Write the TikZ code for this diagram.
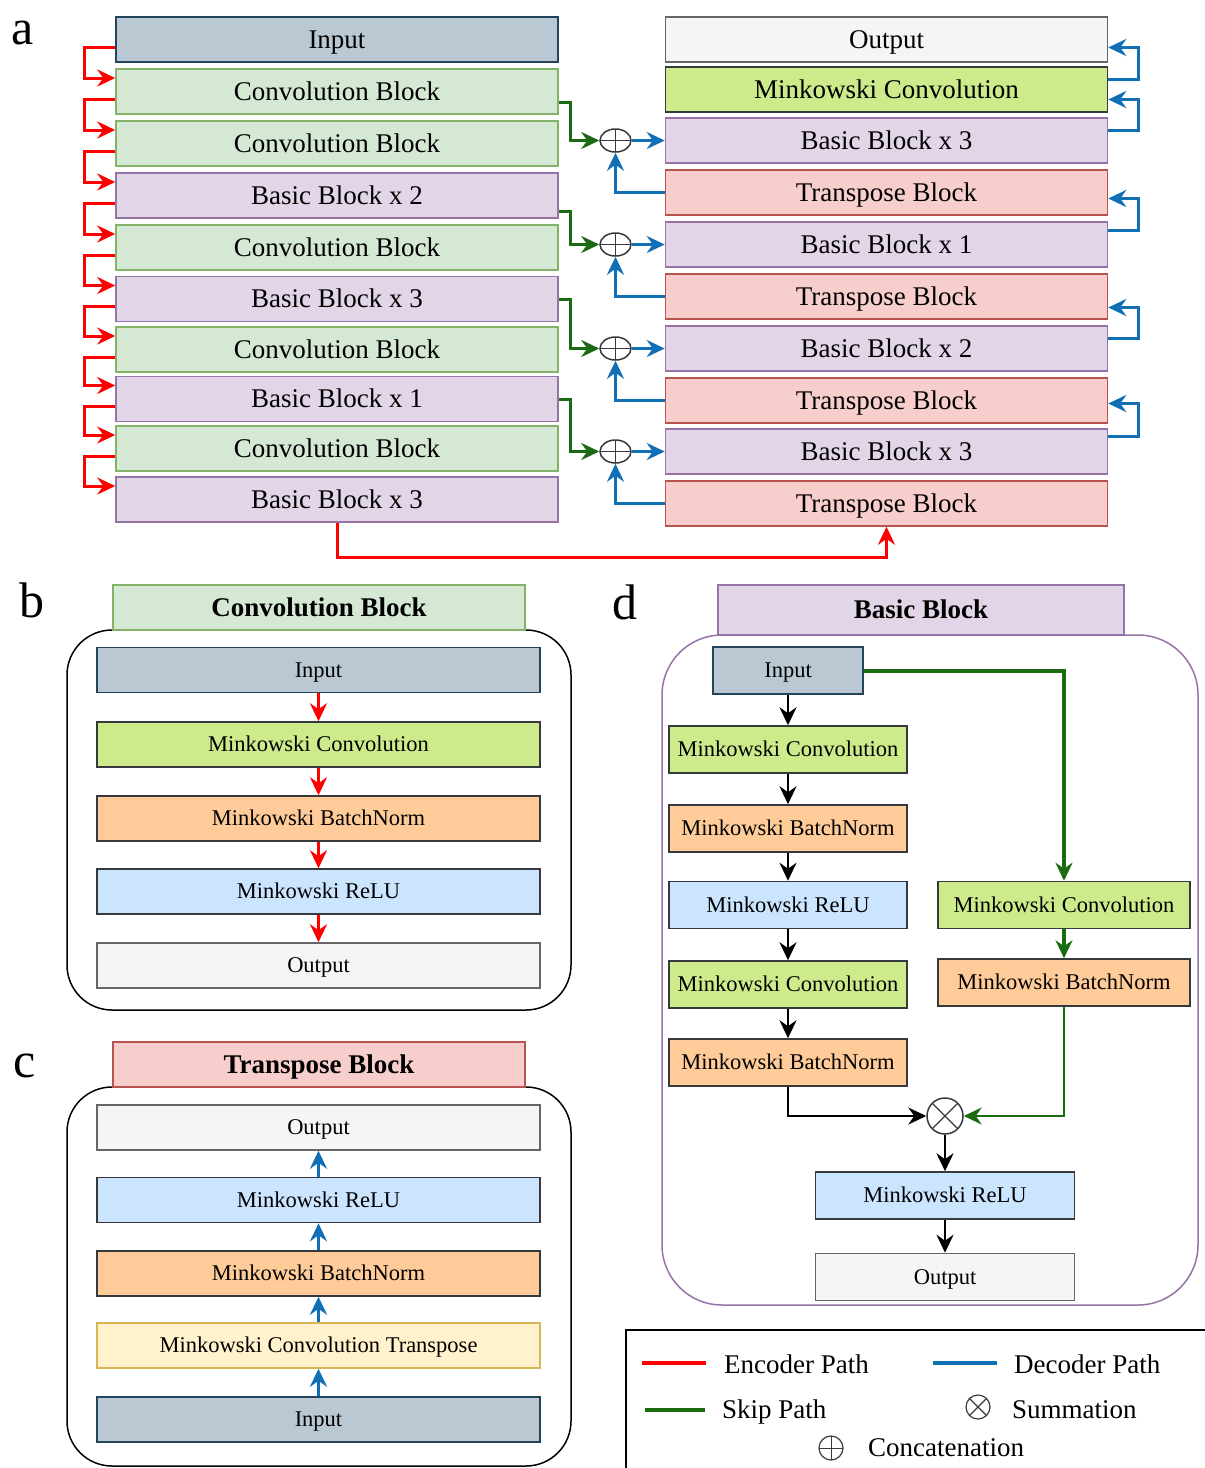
\documentclass[tikz,border=0pt]{standalone}
\usepackage{fontspec}
\setmainfont{Liberation Serif}
\usetikzlibrary{arrows.meta,shapes.geometric}

\definecolor{inpfill}{HTML}{BAC8D3}
\definecolor{inpline}{HTML}{23445D}
\definecolor{convfill}{HTML}{D5E8D4}
\definecolor{convline}{HTML}{82B366}
\definecolor{basicfill}{HTML}{E1D5E7}
\definecolor{basicline}{HTML}{9673A6}
\definecolor{outfill}{HTML}{F5F5F5}
\definecolor{outline}{HTML}{666666}
\definecolor{mconvfill}{HTML}{CDEB8B}
\definecolor{darkline}{HTML}{36393D}
\definecolor{transfill}{HTML}{F8CECC}
\definecolor{transline}{HTML}{B85450}
\definecolor{bnfill}{HTML}{FFCC99}
\definecolor{relufill}{HTML}{CCE5FF}
\definecolor{ctfill}{HTML}{FFF2CC}
\definecolor{ctline}{HTML}{D6B656}
\definecolor{encred}{HTML}{FF0000}
\definecolor{decblue}{HTML}{1170B5}
\definecolor{skipgreen}{HTML}{1A6B12}

\newcommand{\blockfont}{\fontsize{27}{30}\selectfont}
\newcommand{\layerfont}{\fontsize{22.5}{26}\selectfont}
\newcommand{\titlefont}{\fontsize{27}{30}\selectfont\bfseries}
\newcommand{\tagfont}{\fontsize{50}{55}\selectfont}

\tikzset{
  blk/.style={draw, line width=1.5pt, inner sep=0pt},
  inputbox/.style={blk, fill=inpfill, draw=inpline},
  convbox/.style={blk, fill=convfill, draw=convline},
  basicbox/.style={blk, fill=basicfill, draw=basicline},
  outbox/.style={blk, fill=outfill, draw=outline},
  mconvbox/.style={blk, fill=mconvfill, draw=darkline},
  transbox/.style={blk, fill=transfill, draw=transline},
  bnbox/.style={blk, fill=bnfill, draw=darkline},
  relubox/.style={blk, fill=relufill, draw=darkline},
  ctbox/.style={blk, fill=ctfill, draw=ctline},
  bigtext/.style={font=\blockfont, text height=19.4pt, text depth=1.6pt},
  smalltext/.style={font=\layerfont, text height=16.2pt, text depth=1.35pt},
  wideA/.style={bigtext, minimum width=442pt, minimum height=45pt},
  wideB/.style={smalltext, minimum width=443pt, minimum height=45pt},
  titlebox/.style={minimum width=412pt, minimum height=45pt, font=\titlefont,
    text height=19.4pt, text depth=1.6pt},
  tagtext/.style={font=\tagfont, inner sep=0pt},
  concat/.style={ellipse, draw=darkline, line width=1.5pt, inner sep=0pt,
    minimum width=31pt, minimum height=23pt,
    path picture={\draw[darkline, line width=1.2pt]
      (path picture bounding box.north) -- (path picture bounding box.south)
      (path picture bounding box.west) -- (path picture bounding box.east);}},
  summ/.style={circle, draw=darkline, line width=1.5pt, inner sep=0pt,
    minimum size=36pt,
    path picture={\draw[darkline, line width=1.2pt]
      (path picture bounding box.north west) -- (path picture bounding box.south east)
      (path picture bounding box.south west) -- (path picture bounding box.north east);}},
  tip/.style={-{Stealth[length=18pt,width=17pt,inset=6pt]}},
  encpath/.style={tip, draw=encred, line width=3pt},
  decpath/.style={tip, draw=decblue, line width=3pt},
  skippath/.style={tip, draw=skipgreen, line width=3pt},
  flowpath/.style={tip, draw=black, line width=2.5pt}
}

\begin{document}
\begin{tikzpicture}[x=1pt, y=-1pt]
  \useasboundingbox (0,0) rectangle (1205,1468);

  %%%%% PART A %%%%%
  \node[tagtext] (taga) at (23,33) {a};

  \node[inputbox, wideA] (enc0) at (337,39.5) {Input};
  \node[convbox, wideA] (enc1) at (337,91.5) {Convolution Block};
  \node[convbox, wideA] (enc2) at (337,143.5) {Convolution Block};
  \node[basicbox, wideA] (enc3) at (337,195.5) {Basic Block x 2};
  \node[convbox, wideA] (enc4) at (337,247.5) {Convolution Block};
  \node[basicbox, wideA] (enc5) at (337,299) {Basic Block x 3};
  \node[convbox, wideA] (enc6) at (337,349.5) {Convolution Block};
  \node[basicbox, wideA] (enc7) at (337,399) {Basic Block x 1};
  \node[convbox, wideA] (enc8) at (337,448.5) {Convolution Block};
  \node[basicbox, wideA] (enc9) at (337,499.5) {Basic Block x 3};

  \node[outbox, wideA] (dec0) at (886.5,39.5) {Output};
  \node[mconvbox, wideA] (dec1) at (886.5,89.5) {Minkowski Convolution};
  \node[basicbox, wideA] (dec2) at (886.5,140.5) {Basic Block x 3};
  \node[transbox, wideA] (dec3) at (886.5,192.5) {Transpose Block};
  \node[basicbox, wideA] (dec4) at (886.5,244.5) {Basic Block x 1};
  \node[transbox, wideA] (dec5) at (886.5,296.5) {Transpose Block};
  \node[basicbox, wideA] (dec6) at (886.5,348.5) {Basic Block x 2};
  \node[transbox, wideA] (dec7) at (886.5,400.5) {Transpose Block};
  \node[basicbox, wideA] (dec8) at (886.5,451.5) {Basic Block x 3};
  \node[transbox, wideA] (dec9) at (886.5,503.5) {Transpose Block};

  \node[concat] (cat1) at (615.5,140.5) {};
  \node[concat] (cat2) at (615.5,244.5) {};
  \node[concat] (cat3) at (615.5,348.5) {};
  \node[concat] (cat4) at (615.5,451.5) {};

  % encoder path
  \draw[encpath] ([yshift=-7.5pt]enc0.west) -- ++(-31,0) |- ([yshift=13.5pt]enc1.west);
  \draw[encpath] ([yshift=-7.5pt]enc1.west) -- ++(-31,0) |- ([yshift=13.5pt]enc2.west);
  \draw[encpath] ([yshift=-7.5pt]enc2.west) -- ++(-31,0) |- ([yshift=13.5pt]enc3.west);
  \draw[encpath] ([yshift=-7.5pt]enc3.west) -- ++(-31,0) |- ([yshift=13.5pt]enc4.west);
  \draw[encpath] ([yshift=-7.5pt]enc4.west) -- ++(-31,0) |- ([yshift=13.5pt]enc5.west);
  \draw[encpath] ([yshift=-7.5pt]enc5.west) -- ++(-31,0) |- ([yshift=13.5pt]enc6.west);
  \draw[encpath] ([yshift=-7.5pt]enc6.west) -- ++(-31,0) |- ([yshift=13.5pt]enc7.west);
  \draw[encpath] ([yshift=-7.5pt]enc7.west) -- ++(-31,0) |- ([yshift=13.5pt]enc8.west);
  \draw[encpath] ([yshift=-7.5pt]enc8.west) -- ++(-31,0) |- ([yshift=13.5pt]enc9.west);
  \draw[encpath] (enc9.south) -- ++(0,35) -| (dec9.south);

  % skip path
  \draw[skippath] ([yshift=-11pt]enc1.east) -- ++(12,0) |- (cat1.west);
  \draw[skippath] ([yshift=-16pt]enc3.east) -- ++(12,0) |- (cat2.west);
  \draw[skippath] (enc5.east) -- ++(12,0) |- (cat3.west);
  \draw[skippath] (enc7.east) -- ++(12,0) |- (cat4.west);

  % decoder path
  \draw[decpath] (cat1.east) -- (dec2.west);
  \draw[decpath] (cat2.east) -- (dec4.west);
  \draw[decpath] (cat3.east) -- (dec6.west);
  \draw[decpath] (cat4.east) -- (dec8.west);
  \draw[decpath] (dec3.west) -| (cat1.south);
  \draw[decpath] (dec5.west) -| (cat2.south);
  \draw[decpath] (dec7.west) -| (cat3.south);
  \draw[decpath] (dec9.west) -| (cat4.south);
  \draw[decpath] ([yshift=10pt]dec1.east) -- ++(30,0) |- ([yshift=-8pt]dec0.east);
  \draw[decpath] ([yshift=10pt]dec2.east) -- ++(30,0) |- ([yshift=-10pt]dec1.east);
  \draw[decpath] ([yshift=14pt]dec4.east) -- ++(30,0) |- ([yshift=-6pt]dec3.east);
  \draw[decpath] ([yshift=10pt]dec6.east) -- ++(30,0) |- ([yshift=-11pt]dec5.east);
  \draw[decpath] ([yshift=15pt]dec8.east) -- ++(30,0) |- ([yshift=-3pt]dec7.east);

  %%%%% PART B %%%%%
  \node[tagtext] (tagb) at (32,600) {b};
  \draw[line width=1.5pt, rounded corners=45pt] (67,630) rectangle (571,1010);
  \node[convbox, titlebox] (cbtitle) at (319,607.5) {Convolution Block};

  \node[inputbox, wideB] (cbin) at (318.5,670) {Input};
  \node[mconvbox, wideB] (cbconv) at (318.5,744.5) {Minkowski Convolution};
  \node[bnbox, wideB] (cbbn) at (318.5,818.5) {Minkowski BatchNorm};
  \node[relubox, wideB] (cbrelu) at (318.5,891.5) {Minkowski ReLU};
  \node[outbox, wideB] (cbout) at (318.5,965.5) {Output};

  \draw[encpath] (cbin) -- (cbconv);
  \draw[encpath] (cbconv) -- (cbbn);
  \draw[encpath] (cbbn) -- (cbrelu);
  \draw[encpath] (cbrelu) -- (cbout);

  %%%%% PART C %%%%%
  \node[tagtext] (tagc) at (25,1066) {c};
  \draw[line width=1.5pt, rounded corners=45pt] (67,1087) rectangle (571,1466);
  \node[transbox, titlebox] (tbtitle) at (319,1064.5) {Transpose Block};

  \node[outbox, wideB] (tbout) at (318.5,1127.5) {Output};
  \node[relubox, wideB] (tbrelu) at (318.5,1200) {Minkowski ReLU};
  \node[bnbox, wideB] (tbbn) at (318.5,1273.5) {Minkowski BatchNorm};
  \node[ctbox, wideB] (tbct) at (318.5,1345.5) {Minkowski Convolution Transpose};
  \node[inputbox, wideB] (tbin) at (318.5,1419.5) {Input};

  \draw[decpath] (tbin) -- (tbct);
  \draw[decpath] (tbct) -- (tbbn);
  \draw[decpath] (tbbn) -- (tbrelu);
  \draw[decpath] (tbrelu) -- (tbout);

  %%%%% PART D %%%%%
  \node[tagtext] (tagd) at (625,602) {d};
  \draw[basicline, line width=1.5pt, rounded corners=60pt] (662,635) rectangle (1198,1305);
  \node[basicbox, minimum width=406pt, minimum height=50pt, font=\titlefont,
    text height=19.4pt, text depth=1.6pt] (bbtitle) at (921,610) {Basic Block};

  \node[inputbox, smalltext, minimum width=150pt, minimum height=47pt] (bbin) at (788,670.5) {Input};
  \node[mconvbox, smalltext, minimum width=238pt, minimum height=47pt] (bbconv1) at (788,749.5) {Minkowski Convolution};
  \node[bnbox, smalltext, minimum width=238pt, minimum height=47pt] (bbbn1) at (788,828.5) {Minkowski BatchNorm};
  \node[relubox, smalltext, minimum width=238pt, minimum height=47pt] (bbrelu1) at (788,905) {Minkowski ReLU};
  \node[mconvbox, smalltext, minimum width=238pt, minimum height=47pt] (bbconv2) at (788,984.5) {Minkowski Convolution};
  \node[bnbox, smalltext, minimum width=238pt, minimum height=47pt] (bbbn2) at (788,1062.5) {Minkowski BatchNorm};
  \node[mconvbox, smalltext, minimum width=252pt, minimum height=47pt] (bbconv3) at (1064,905) {Minkowski Convolution};
  \node[bnbox, smalltext, minimum width=252pt, minimum height=47pt] (bbbn3) at (1064,982.5) {Minkowski BatchNorm};
  \node[summ] (bbsum) at (945,1116) {};
  \node[relubox, smalltext, minimum width=259pt, minimum height=47pt] (bbrelu2) at (945,1195.5) {Minkowski ReLU};
  \node[outbox, smalltext, minimum width=259pt, minimum height=47pt] (bbout) at (945,1277) {Output};

  \draw[flowpath] (bbin) -- (bbconv1);
  \draw[flowpath] (bbconv1) -- (bbbn1);
  \draw[flowpath] (bbbn1) -- (bbrelu1);
  \draw[flowpath] (bbrelu1) -- (bbconv2);
  \draw[flowpath] (bbconv2) -- (bbbn2);
  \draw[flowpath] (bbbn2.south) |- (bbsum.west);
  \draw[skippath, line width=4pt] (bbin.east) -| (bbconv3.north);
  \draw[skippath, line width=4pt] (bbconv3) -- (bbbn3);
  \draw[skippath, line width=2.5pt] (bbbn3.south) |- (bbsum.east);
  \draw[flowpath] (bbsum) -- (bbrelu2);
  \draw[flowpath] (bbrelu2) -- (bbout);

  %%%%% LEGEND %%%%%
  \draw[line width=1.5pt] (626,1330) rectangle (1230,1490);
  \draw[encred, line width=4pt] (642,1363) -- (706,1363);
  \node[anchor=base west, inner sep=0pt, font=\blockfont] (legenc) at (724,1373) {Encoder Path};
  \draw[decblue, line width=4pt] (933,1363) -- (997,1363);
  \node[anchor=base west, inner sep=0pt, font=\blockfont] (legdec) at (1014,1373) {Decoder Path};
  \draw[skipgreen, line width=4pt] (645,1410) -- (705,1410);
  \node[anchor=base west, inner sep=0pt, font=\blockfont] (legskip) at (722,1418) {Skip Path};
  \node[summ, minimum size=24pt, line width=1.2pt] (legsum) at (978,1407) {};
  \node[anchor=base west, inner sep=0pt, font=\blockfont] (legsumtxt) at (1012,1418) {Summation};
  \node[circle, draw=darkline, line width=1.2pt, inner sep=0pt, minimum size=24pt,
    path picture={\draw[darkline, line width=1pt]
      (path picture bounding box.north) -- (path picture bounding box.south)
      (path picture bounding box.west) -- (path picture bounding box.east);}] (legcat) at (831,1448) {};
  \node[anchor=base west, inner sep=0pt, font=\blockfont] (legcattxt) at (868,1456) {Concatenation};
\end{tikzpicture}
\end{document}
